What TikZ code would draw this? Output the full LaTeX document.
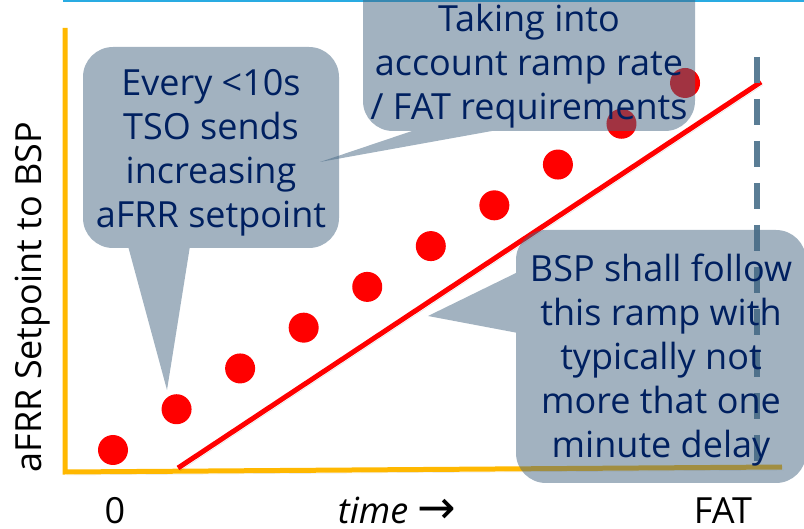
\documentclass[tikz,border=0pt]{standalone}
\usepackage{fontspec}
\setmainfont{Open Sans}
\newfontfamily\arrowfont{DejaVu Sans}

\definecolor{bubblegrey}{RGB}{69,102,130}
\definecolor{textnavy}{RGB}{0,32,96}
\definecolor{axisgold}{RGB}{255,184,0}
\definecolor{fatgrey}{RGB}{90,125,149}
\definecolor{framecyan}{RGB}{41,171,226}

\begin{document}
\begin{tikzpicture}[x=1pt, y=-1pt,
    bubble/.style={fill=bubblegrey, fill opacity=0.5, rounded corners=30pt},
    bubbletext/.style={text=textnavy, align=center, inner sep=0pt, font=\fontsize{36}{44}\selectfont},
    axislabel/.style={inner sep=0pt, font=\fontsize{36}{44}\selectfont},
    shadowed/.style={preaction={draw=black, draw opacity=0.12, transform canvas={xshift=2pt, yshift=-3pt}}}]
  \useasboundingbox (0,0) rectangle (804,529);

  % frame edge above the chart
  \draw[framecyan, line width=2pt] (63,1) -- (804,1);

  % axes
  \draw[axisgold, line width=5pt, shadowed] (65,28) -- (65,472) -- (782,467);

  % setpoints sent by the TSO
  \foreach \i in {0,...,9}
    \fill[red] (113+63.56*\i, 450-40.78*\i) circle (15pt);

  % ramp to FAT
  \coordinate (rampstart) at (178,468);
  \coordinate (rampend) at (761,82);
  \draw[red, line width=5pt, shadowed] (rampstart) -- (rampend);
  \draw[fatgrey, line width=6pt, dash pattern=on 26pt off 16pt] (757,57) -- (757,461);

  % callouts
  \coordinate (everytip) at (167,390);
  \coordinate (ramptip) at (320,162);
  \coordinate (followtip) at (428,316);
  \fill[bubble] (83,47) rectangle (339,248)
    [sharp corners] (128,246) -- (everytip) -- (190,246) -- cycle;
  \fill[bubble] (363,-40) rectangle (695,131)
    [sharp corners] (418,129) -- (ramptip) -- (503,129) -- cycle;
  \fill[bubble] (516,230) rectangle (806,483)
    [sharp corners] (518,272) -- (followtip) -- (518,333) -- cycle;

  \node[bubbletext] (every) at (211,153) {Every <10s\\TSO sends\\increasing\\aFRR setpoint};
  \node[bubbletext] (ramp) at (529,66) {Taking into\\account ramp rate\\/ FAT requirements};
  \node[bubbletext] (follow) at (661,360) {BSP shall follow\\this ramp with\\typically not\\more that one\\minute delay};

  % axis labels
  \node[axislabel, rotate=90] (ylabel) at (33,297) {aFRR Setpoint to BSP};
  \node[axislabel, anchor=base] (zero) at (115,523) {0};
  \node[axislabel, anchor=base] (time) at (397,523) {\textit{time} {\arrowfont\fontsize{46}{46}\selectfont →}};
  \node[axislabel, anchor=base] (fat) at (723,523) {FAT};
\end{tikzpicture}
\end{document}
